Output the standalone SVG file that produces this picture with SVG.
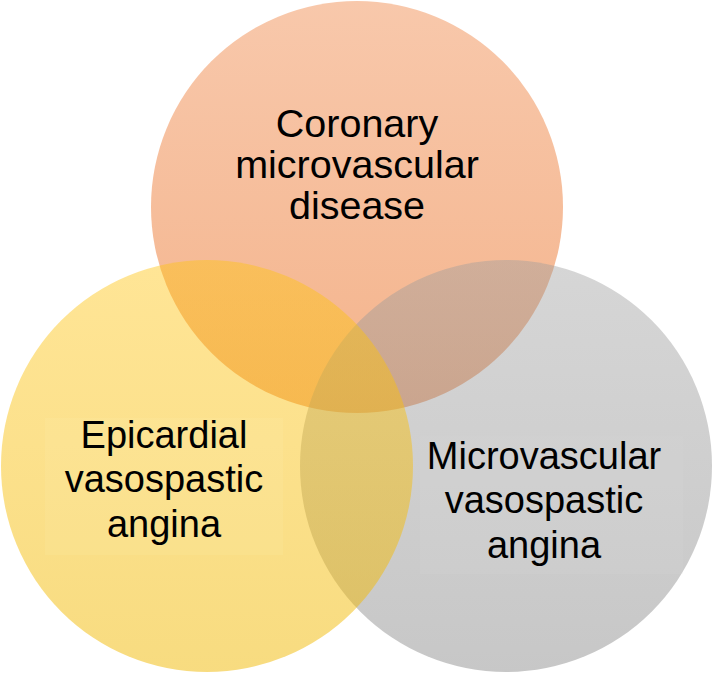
<svg xmlns="http://www.w3.org/2000/svg" width="714" height="674" viewBox="0 0 714 674">
  <defs>
    <linearGradient id="gOrange" x1="0" y1="0" x2="0" y2="1">
      <stop offset="0" stop-color="#F8C8AB"/>
      <stop offset="1" stop-color="#F4B38B"/>
    </linearGradient>
    <linearGradient id="gGray" x1="0" y1="0" x2="0" y2="1">
      <stop offset="0" stop-color="#9D9D9D" stop-opacity="0.42"/>
      <stop offset="1" stop-color="#808080" stop-opacity="0.44"/>
    </linearGradient>
    <linearGradient id="gYellow" x1="0" y1="0" x2="0" y2="1">
      <stop offset="0" stop-color="#FFC410" stop-opacity="0.44"/>
      <stop offset="1" stop-color="#F0B800" stop-opacity="0.5"/>
    </linearGradient>
  </defs>
  <style>
    .lbl { font-family: "Liberation Sans", Arial, sans-serif; font-size: 38px; fill: #000000; text-anchor: middle; }
    .big { font-size: 39.5px; }
  </style>
  <g id="circle-coronary">
    <circle cx="357" cy="207" r="206" fill="url(#gOrange)"/>
  </g>
  <g id="circle-microvascular">
    <circle cx="506" cy="466" r="206" fill="url(#gGray)"/>
  </g>
  <g id="circle-epicardial">
    <circle cx="207" cy="466" r="206" fill="url(#gYellow)"/>
  </g>
  <g id="connectors"></g>
  <g id="label-coronary">
    <text class="lbl big" x="357" y="137">Coronary</text>
    <text class="lbl big" x="357" y="178">microvascular</text>
    <text class="lbl big" x="357" y="219">disease</text>
  </g>
  <g id="label-epicardial">
    <rect x="45" y="418" width="238" height="137" fill="#FFF4C0" fill-opacity="0.12"/>
    <text class="lbl" x="164" y="448">Epicardial</text>
    <text class="lbl" x="164" y="492">vasospastic</text>
    <text class="lbl" x="164" y="537">angina</text>
  </g>
  <g id="label-microvascular">
    <rect x="420" y="436" width="263" height="138" fill="#E0E0E0" fill-opacity="0.12"/>
    <text class="lbl" x="544" y="469">Microvascular</text>
    <text class="lbl" x="544" y="513">vasospastic</text>
    <text class="lbl" x="544" y="558">angina</text>
  </g>
</svg>
